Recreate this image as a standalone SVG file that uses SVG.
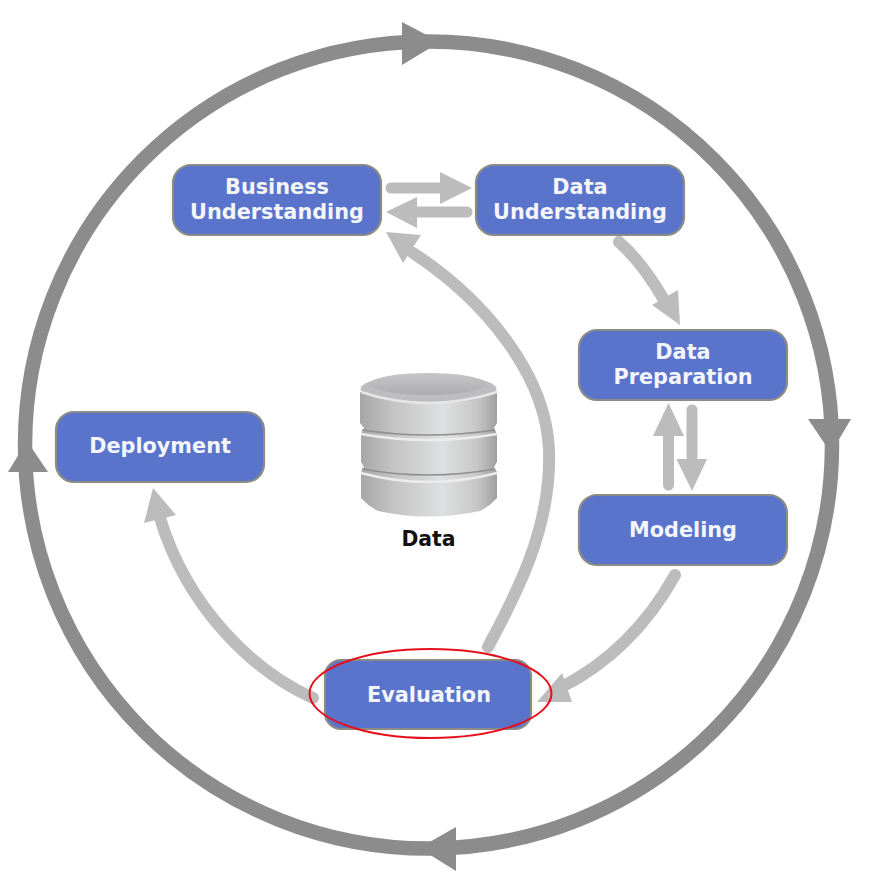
<svg xmlns="http://www.w3.org/2000/svg" width="875" height="892" viewBox="0 0 875 892">
<style>
.node{fill:#5974ca;stroke:#8c8c86;stroke-width:2.2}
.t{font-family:"DejaVu Sans",Verdana,sans-serif;font-weight:700;font-size:20.800px;fill:#f4f6fc;text-anchor:middle}
.c{fill:none;stroke:#bcbcbc;stroke-width:12;stroke-linecap:round}
.s{fill:none;stroke:#bcbcbc;stroke-width:11;stroke-linecap:round}
.h{fill:#bcbcbc}
.o{fill:#8c8c8c}
</style>
<defs>
<linearGradient id="cyl" x1="0" x2="1" y1="0" y2="0">
<stop offset="0" stop-color="#a6a6a6"/><stop offset=".25" stop-color="#c4c4c4"/><stop offset=".6" stop-color="#dedfe0"/><stop offset=".85" stop-color="#c8c8c8"/><stop offset="1" stop-color="#9f9f9f"/>
</linearGradient>
<linearGradient id="cap" x1="0" x2="0" y1="0" y2="1">
<stop offset="0" stop-color="#c6c6c8"/><stop offset="1" stop-color="#aeaeb0"/>
</linearGradient>
</defs>
<rect width="875" height="892" fill="#fff"/>
<g id="connectors">
<circle cx="428.500" cy="445" r="403.500" fill="none" stroke="#8c8c8c" stroke-width="14.500"/>
<polygon class="o" points="402,22 402,65 440,42"/>
<polygon class="o" points="808,419 851,419 831,453"/>
<polygon class="o" points="456,827 456,871 419,848"/>
<polygon class="o" points="8,472 48,472 27,441"/>
<path class="s" d="M391 188H445"/><polygon class="h" points="440,172 440,204 472,188"/>
<path class="s" d="M467 212H410"/><polygon class="h" points="417,197 417,228 386,212"/>
<path class="c" d="M619 242Q642 262 664 300"/><polygon class="h" points="678,290 652,305 680,325"/>
<path class="s" d="M668.500 485V430"/><polygon class="h" points="653,436 684,436 668.500,403"/>
<path class="s" d="M692 410V465"/><polygon class="h" points="676.500,459 707,459 692,491"/>
<path class="c" d="M675 575C650 620 615 660 560 688"/><polygon class="h" points="562,673 572,702 537,702"/>
<path class="c" d="M488 647C513 600 552 530 549 450C546 375 485 300 413 253"/><polygon class="h" points="421,235 403,263 386,232"/>
<path class="c" d="M313 698C255 672 188 610 160 518"/><polygon class="h" points="144,523 176,515 153,488"/>
</g>
<g id="business-understanding"><rect class="node" x="173" y="165" width="208" height="70" rx="18"/><text class="t" x="277" y="193.700">Business</text><text class="t" x="277" y="218.700">Understanding</text></g>
<g id="data-understanding"><rect class="node" x="476" y="165" width="208" height="70" rx="18"/><text class="t" x="580" y="193.700">Data</text><text class="t" x="580" y="218.700">Understanding</text></g>
<g id="data-preparation"><rect class="node" x="579" y="330" width="208" height="70" rx="18"/><text class="t" x="683" y="358.700">Data</text><text class="t" x="683" y="383.700">Preparation</text></g>
<g id="modeling"><rect class="node" x="579" y="495" width="208" height="70" rx="18"/><text class="t" x="683" y="536.700">Modeling</text></g>
<g id="deployment"><rect class="node" x="56" y="412" width="208" height="70" rx="18"/><text class="t" x="160" y="452.700">Deployment</text></g>
<g id="evaluation"><rect class="node" x="325" y="660" width="206" height="69" rx="16"/><text class="t" x="429" y="701.700">Evaluation</text></g>
<g id="data">
<path d="M360 392V423L364 428L361 434V462L364 467L361 472V498Q368 506 378 511Q428 522 480 511Q490 506 497 498V472L494 467L497 462V434L494 428L497 423V392Z" fill="url(#cyl)"/>
<path d="M362 430Q428 440 495 430M362 469Q428 481 495 469" fill="none" stroke="#8f8f8f" stroke-width="1.500"/>
<path d="M361 434Q428 446 497 434M361 473Q428 491 497 473" fill="none" stroke="#ececec" stroke-width="2.500"/>
<ellipse cx="428.500" cy="389" rx="68" ry="15" fill="#bdbdbf"/>
<path d="M361 392Q428 414 497 392" fill="none" stroke="#e6e6e6" stroke-width="2.500"/>
<ellipse cx="428" cy="384" rx="58" ry="11" fill="url(#cap)"/>
<text x="428.500" y="546" font-family="'DejaVu Sans',Verdana,sans-serif" font-weight="700" font-size="20.400" text-anchor="middle" fill="#111">Data</text>
</g>
<ellipse id="highlight" cx="430.500" cy="693.500" rx="121" ry="44.500" fill="none" stroke="#e6101c" stroke-width="2"/>
</svg>
